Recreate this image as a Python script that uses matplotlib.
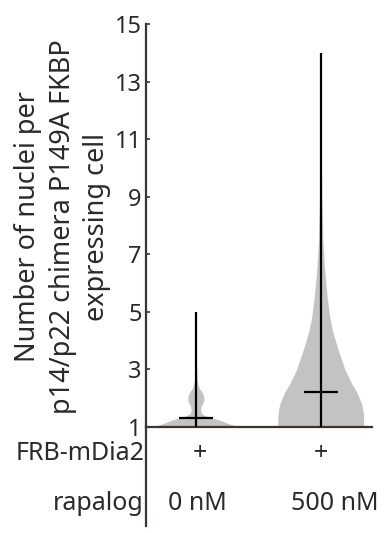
import numpy as np
import matplotlib
matplotlib.use('Agg')
import matplotlib.pyplot as plt
from matplotlib.lines import Line2D
import matplotlib.transforms as mtransforms

plt.rcParams['font.family'] = ['Noto Sans', 'DejaVu Sans']

# condition table below the axis
frb_row = ['+', '+']
rapalog_row = ['0 nM', '500 nM']
row_names = ['FRB-mDia2', 'rapalog']

# violin summaries (nuclei per cell)
mins = [1, 1]
maxs = [5, 14]
medians = [1.3, 2.2]

# violin outlines: nuclei level and relative width
levels_0nM = [1.0, 1.12, 1.24, 1.35, 1.45, 1.55, 1.7, 1.82, 1.94, 2.08, 2.2, 2.32, 2.42, 2.6, 3.0, 3.5, 4.0, 5.0]
width_0nM = [1.0, 0.75, 0.55, 0.28, 0.14, 0.11, 0.12, 0.16, 0.19, 0.18, 0.15, 0.09, 0.06, 0.035, 0.02, 0.01, 0.005, 0.0]
levels_500nM = [1.0, 1.5, 1.8, 2.2, 2.5, 3.0, 3.7, 4.3, 4.8, 5.5, 6.5, 7.5, 9.0, 11.0, 14.0]
width_500nM = [1.0, 0.99, 0.95, 0.84, 0.72, 0.56, 0.40, 0.28, 0.21, 0.15, 0.09, 0.05, 0.025, 0.01, 0.0]

profiles = [(levels_0nM, width_0nM), (levels_500nM, width_500nM)]
positions = [1, 2]
half_width = 0.345
txt_col = '#2a2a2a'
spine_col = '#3b3430'

fig = plt.figure(figsize=(3.85, 5.33), dpi=100)
ax = fig.add_axes([0.379, 0.199, 0.587, 0.756])

for pos, (lv, wd) in zip(positions, profiles):
    lv = np.array(lv)
    wd = np.array(wd) * half_width
    ax.fill_betweenx(lv, pos - wd, pos + wd, color='#c3c3c3', lw=0, zorder=1)

for pos, lo, hi, med in zip(positions, mins, maxs, medians):
    ax.vlines(pos, lo, hi, color='black', lw=1.6, zorder=3)
    ax.hlines(med, pos - 0.136, pos + 0.136, color='black', lw=1.6, zorder=3)

ax.set_xlim(0.6, 2.41)
ax.set_ylim(1, 15)
ax.set_yticks(np.arange(1, 16, 2))
ax.set_xticks([])
ax.tick_params(axis='y', direction='in', length=3, width=1.2, color=spine_col,
               labelsize=17, labelcolor=txt_col, pad=3)
for s in ['top', 'right']:
    ax.spines[s].set_visible(False)
for s in ['left', 'bottom']:
    ax.spines[s].set_color(spine_col)
    ax.spines[s].set_linewidth(1.6)

# left axis line runs down past the table
ax.add_line(Line2D([0, 0], [0, -0.245], transform=ax.transAxes, color=spine_col,
                   lw=1.6, clip_on=False))

fig.text(0.163, 0.574, 'Number of nuclei per\np14/p22 chimera P149A FKBP\nexpressing cell',
         rotation=90, ha='center', va='center', multialignment='center',
         fontsize=19.5, color=txt_col, linespacing=1.31)

trans = mtransforms.blended_transform_factory(ax.transData, ax.transAxes)
row_y = [-0.065, -0.19]
for name, y in zip(row_names, row_y):
    ax.text(-0.008, y, name, transform=ax.transAxes, ha='right', va='center',
            fontsize=18, color=txt_col)
for pos, dx_a, a, dx_b, b in zip(positions, [0.03, 0.0], frb_row, [0.01, 0.11], rapalog_row):
    ax.text(pos + dx_a, row_y[0], a, transform=trans, ha='center', va='center',
            fontsize=18, color=txt_col)
    ax.text(pos + dx_b, row_y[1], b, transform=trans, ha='center', va='center',
            fontsize=18, color=txt_col)

fig.savefig('out.png', dpi=100)
